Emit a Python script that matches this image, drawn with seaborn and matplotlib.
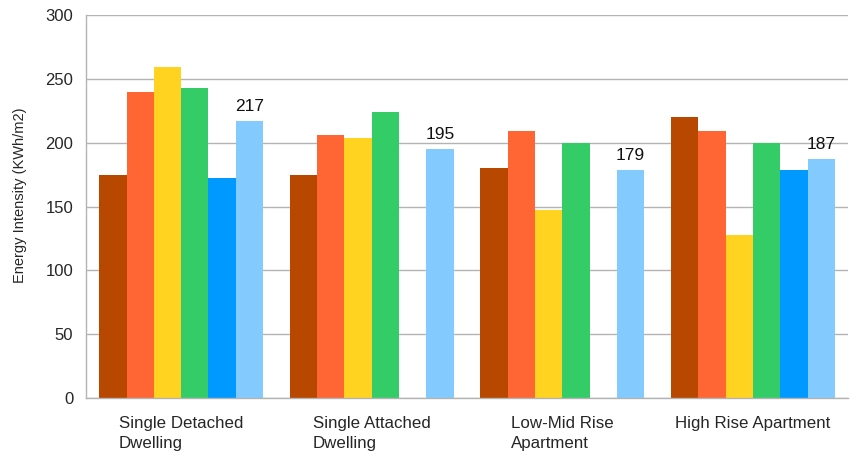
import matplotlib
matplotlib.use("Agg")
import matplotlib.pyplot as plt
import numpy as np
import pandas as pd
import seaborn as sns

# building types and the six series
categories = ["Single Detached\nDwelling", "Single Attached\nDwelling",
              "Low-Mid Rise\nApartment", "High Rise Apartment"]
series_names = ["S1", "S2", "S3", "S4", "S5", "S6"]
s1 = [175, 175, 180, 220]
s2 = [240, 206, 209, 209]
s3 = [259, 204, 147, 128]
s4 = [243, 224, 200, 200]
s5 = [172, np.nan, np.nan, 179]
s6 = [217, 195, 179, 187]
palette = ["#b84700", "#ff6633", "#ffd320", "#33cc66", "#0099ff", "#83caff"]

rows = []
for name, vals in zip(series_names, [s1, s2, s3, s4, s5, s6]):
    for cat, v in zip(categories, vals):
        rows.append({"category": cat, "series": name, "value": v})
df = pd.DataFrame(rows)

sns.set_style("white")
plt.rcParams["font.family"] = ["Liberation Sans", "DejaVu Sans"]

fig = plt.figure(figsize=(8.5, 4.55), dpi=100)
ax = fig.add_axes([0.101, 0.125, 0.897, 0.842])

sns.barplot(data=df, x="category", y="value", hue="series", order=categories,
            hue_order=series_names, palette=palette, width=0.86,
            saturation=1, linewidth=0, legend=False, ax=ax)

# value labels on the last series only
ax.bar_label(ax.containers[-1], fmt="%.0f", padding=5, fontsize=12.5, color="#111111")

ax.set_ylim(0, 300)
ax.set_yticks(np.arange(0, 301, 50))
ax.set_xlim(-0.5, 3.5)
ax.yaxis.grid(True, color="#b3b3b3", linewidth=1)
ax.set_axisbelow(True)

ax.set_xlabel("")
ax.set_ylabel("Energy Intensity (KWh/m2)", fontsize=10.5)
ax.yaxis.set_label_coords(-0.077, 0.53)

# group separators as minor ticks, labels at the centres
ax.set_xticks(np.arange(-0.5, 3.6, 1), minor=True)
ax.tick_params(axis="x", which="minor", length=6, color="#b3b3b3", width=1)
ax.tick_params(axis="x", which="major", length=0, pad=13, labelsize=12.2)
ax.tick_params(axis="y", length=6, color="#b3b3b3", width=1, labelsize=12, pad=3)
for lab in ax.get_xticklabels():
    lab.set_multialignment("left")
    lab.set_linespacing(1.4)

for side in ["top", "right"]:
    ax.spines[side].set_visible(False)
for side in ["left", "bottom"]:
    ax.spines[side].set_color("#b3b3b3")
    ax.spines[side].set_linewidth(1)

fig.savefig("out.png", dpi=100)
